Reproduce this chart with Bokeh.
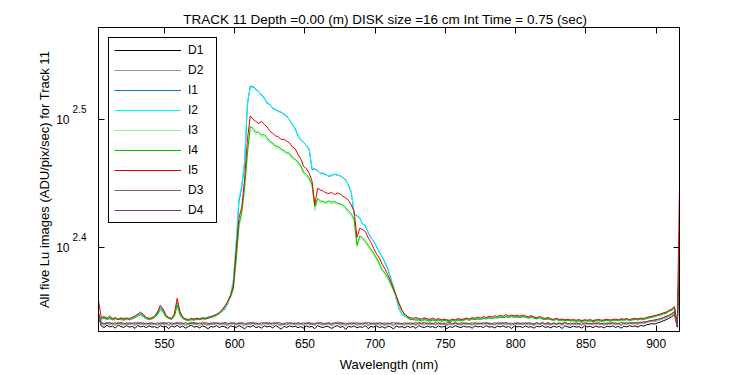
import numpy as np
from bokeh.plotting import figure
from bokeh.models import (Range1d, FixedTicker, LinearAxis, LogAxis, Legend, LegendItem,
                          CustomJSTickFormatter)
from bokeh.embed import file_html
from bokeh.resources import INLINE

# ---------------- data ----------------
wl_start = 503.0   # first sample wavelength (nm)
wl_step = 2.0      # sampling step (nm)

x_ticks = [550, 600, 650, 700, 750, 800, 850, 900]
y_ticks = [10 ** 2.4, 10 ** 2.5]
y_tick_exponents = ["2.4", "2.5"]

title_text = "TRACK 11 Depth =0.00 (m) DISK size =16 cm   Int Time = 0.75 (sec)"
x_label = "Wavelength (nm)"
y_label = "All five Lu images (ADU/pix/sec) for Track 11"

D1 = [
    222.0, 218.3, 217.6, 218.5, 217.9, 218.2, 217.4, 218.6, 218.0, 217.7,
    218.4, 217.8, 218.1, 217.3, 218.5, 217.9, 218.2, 217.6, 218.3, 217.8,
    218.0, 217.5, 218.4, 217.9, 218.1, 217.2, 218.3, 217.8, 218.5, 217.7,
    218.2, 217.4, 218.0, 218.6, 217.8, 218.1, 217.5, 218.3, 217.9, 217.2,
    218.1, 217.8, 218.4, 217.6, 218.2, 217.9, 217.3, 218.3, 218.0, 217.7,
    218.4, 217.9, 217.1, 218.2, 217.8, 218.5, 217.6, 218.0, 217.4, 218.3,
    217.9, 218.2, 217.5, 218.4, 217.8, 217.0, 218.1, 217.7, 218.3, 217.9,
    218.2, 217.6, 218.0, 217.4, 218.3, 217.8, 218.1, 217.2, 218.4, 217.9,
    217.6, 218.2, 217.9, 217.3, 218.0, 218.4, 217.7, 218.1, 216.9, 218.2,
    217.8, 218.3, 217.5, 218.0, 217.7, 218.4, 217.2, 218.1, 217.8, 218.3,
    217.6, 218.0, 217.4, 218.2, 217.9, 217.1, 218.3, 217.8, 218.0, 217.5,
    218.2, 217.7, 218.1, 217.3, 218.4, 217.9, 217.6, 218.2, 217.8, 218.0,
    217.5, 218.3, 217.8, 218.1, 217.2, 218.0, 217.7, 218.4, 217.9, 217.6,
    218.2, 217.8, 218.0, 217.4, 218.3, 217.9, 218.1, 217.6, 218.4, 217.8,
    218.0, 217.5, 218.2, 217.9, 218.3, 217.7, 218.1, 217.3, 218.2, 217.9,
    218.1, 217.6, 218.3, 217.8, 218.0, 217.4, 218.2, 217.9, 218.4, 217.7,
    218.0, 217.5, 218.2, 217.8, 218.1, 217.3, 218.3, 217.9, 217.6, 218.2,
    217.8, 218.0, 217.4, 218.3, 217.9, 218.1, 217.6, 218.2, 217.8, 218.0,
    217.5, 218.2, 217.9, 218.3, 217.7, 218.1, 217.4, 218.2, 217.9, 218.4,
    218.0, 218.3, 217.8, 218.5, 218.2, 218.7, 218.9, 219.2, 219.0, 219.5,
    219.8, 220.3, 220.7, 221.3, 221.9, 222.8, 217.8, 254.5,
]

D2 = [
    223.0, 219.0, 218.5, 219.2, 218.7, 219.1, 218.4, 219.3, 218.8, 218.6,
    219.1, 218.7, 219.0, 218.4, 219.2, 218.8, 219.1, 218.5, 219.0, 218.7,
    218.9, 218.5, 219.2, 218.8, 219.0, 218.3, 219.1, 218.7, 219.3, 218.6,
    219.0, 218.4, 218.9, 219.3, 218.7, 219.0, 218.5, 219.2, 218.8, 218.4,
    219.0, 218.7, 219.2, 218.6, 219.1, 218.8, 218.4, 219.2, 218.9, 218.6,
    219.2, 218.8, 218.3, 219.1, 218.7, 219.3, 218.6, 218.9, 218.4, 219.1,
    218.8, 219.1, 218.5, 219.2, 218.7, 218.2, 219.0, 218.6, 219.2, 218.8,
    219.1, 218.6, 218.9, 218.4, 219.2, 218.7, 219.0, 218.3, 219.3, 218.8,
    218.5, 219.1, 218.8, 218.4, 218.9, 219.3, 218.6, 219.0, 218.2, 219.1,
    218.7, 219.2, 218.5, 218.9, 218.6, 219.3, 218.3, 219.0, 218.7, 219.2,
    218.6, 218.9, 218.4, 219.1, 218.8, 218.2, 219.2, 218.7, 218.9, 218.5,
    219.1, 218.6, 219.0, 218.4, 219.3, 218.8, 218.6, 219.1, 218.7, 218.9,
    218.5, 219.2, 218.7, 219.0, 218.3, 218.9, 218.6, 219.3, 218.8, 218.5,
    219.1, 218.7, 218.9, 218.4, 219.2, 218.8, 219.0, 218.6, 219.3, 218.7,
    218.9, 218.5, 219.1, 218.8, 219.2, 218.6, 219.0, 218.4, 219.1, 218.8,
    219.0, 218.6, 219.2, 218.7, 218.9, 218.4, 219.1, 218.8, 219.3, 218.6,
    218.9, 218.5, 219.1, 218.7, 219.0, 218.4, 219.2, 218.8, 218.6, 219.1,
    218.7, 218.9, 218.4, 219.2, 218.8, 219.0, 218.6, 219.1, 218.7, 218.9,
    218.5, 219.1, 218.8, 219.2, 218.6, 219.0, 218.4, 219.1, 218.8, 219.3,
    218.9, 219.2, 218.8, 219.4, 219.1, 219.6, 219.8, 220.1, 219.9, 220.4,
    220.6, 221.1, 221.5, 222.0, 222.6, 223.4, 218.2, 255.2,
]

I1 = [
    222.4, 221.3, 221.8, 221.0, 221.6, 220.9, 221.4, 220.8, 221.2, 220.7,
    221.3, 220.9, 221.5, 221.8, 222.6, 223.3, 222.4, 221.5, 221.0, 221.4,
    222.0, 223.4, 225.9, 224.6, 222.3, 221.4, 221.0, 222.6, 227.6, 223.5,
    221.5, 220.9, 220.6, 221.1, 220.8, 221.2, 221.0, 221.4, 221.3, 221.8,
    221.8, 222.2, 222.8, 223.2, 224.0, 225.0, 227.2, 230.5, 236.0, 252.0,
    273.0, 280.0, 292.0, 325.0, 336.0, 335.4, 334.2, 332.6, 331.0, 328.7,
    326.2, 324.9, 323.1, 321.9, 321.3, 320.6, 319.6, 318.2, 316.4, 313.6,
    311.4, 307.2, 305.1, 303.6, 302.1, 299.6, 289.2, 289.6, 288.4, 287.4,
    287.1, 286.6, 285.6, 286.3, 286.7, 286.4, 285.9, 285.1, 283.7, 281.2,
    277.3, 266.8, 266.2, 264.9, 262.4, 261.2, 258.3, 255.7, 254.2, 251.6,
    249.2, 247.1, 244.6, 241.7, 237.9, 234.1, 229.2, 225.1, 223.0, 222.0,
    221.8, 221.2, 220.8, 221.0, 220.9, 220.5, 221.2, 220.7, 220.4, 221.0,
    220.6, 220.9, 220.3, 220.8, 220.5, 220.2, 220.7, 220.4, 220.9, 220.6,
    220.8, 221.1, 220.7, 221.2, 220.9, 221.3, 221.0, 221.4, 221.2, 221.6,
    221.3, 221.7, 221.5, 221.9, 221.6, 222.0, 221.7, 222.1, 221.8, 222.0,
    221.7, 222.1, 221.8, 221.6, 221.9, 221.5, 221.3, 221.6, 221.2, 221.0,
    221.3, 220.9, 220.7, 221.0, 220.6, 220.8, 220.5, 220.7, 220.4, 220.6,
    220.3, 220.5, 220.2, 220.6, 220.3, 220.5, 220.2, 220.4, 220.6, 220.3,
    220.5, 220.7, 220.4, 220.6, 220.8, 220.5, 220.9, 220.7, 221.0, 220.6,
    220.9, 221.1, 220.8, 221.2, 221.0, 221.4, 221.7, 221.9, 222.2, 222.5,
    222.8, 223.2, 223.5, 224.2, 224.8, 225.6, 219.0, 256.0,
]

I2 = [
    221.9, 221.6, 221.2, 221.7, 221.1, 221.5, 220.9, 221.3, 220.8, 221.4,
    220.9, 221.5, 221.1, 222.1, 222.9, 223.0, 222.1, 221.3, 221.4, 221.1,
    222.3, 223.9, 225.5, 224.0, 222.0, 221.7, 221.3, 223.0, 227.1, 223.0,
    221.2, 221.3, 220.9, 220.8, 221.2, 220.9, 221.3, 221.1, 221.6, 221.5,
    222.0, 222.5, 222.6, 223.6, 224.3, 225.4, 227.8, 231.0, 237.5, 254.0,
    274.5, 281.0, 293.5, 326.0, 335.0, 336.2, 333.5, 333.2, 330.2, 329.4,
    325.5, 325.4, 322.5, 322.4, 320.8, 321.0, 319.1, 318.7, 316.0, 314.1,
    310.9, 307.8, 304.6, 304.1, 301.6, 300.1, 290.0, 289.1, 288.8, 287.0,
    287.5, 286.2, 286.0, 285.9, 287.1, 286.0, 286.3, 284.7, 284.1, 280.8,
    277.8, 267.4, 265.8, 265.3, 262.0, 261.6, 257.9, 256.1, 253.8, 252.0,
    248.8, 247.5, 244.2, 242.1, 237.5, 234.5, 228.8, 225.5, 222.7, 222.3,
    221.5, 221.5, 220.6, 221.3, 220.6, 220.8, 220.9, 221.0, 220.6, 220.7,
    220.9, 220.6, 220.6, 220.5, 220.8, 220.4, 220.4, 220.7, 220.6, 220.9,
    220.5, 221.3, 220.9, 220.9, 221.2, 221.0, 221.3, 221.1, 221.5, 221.3,
    221.6, 221.4, 221.8, 221.6, 221.9, 221.7, 222.0, 221.8, 222.1, 221.7,
    222.0, 221.8, 222.1, 221.3, 221.6, 221.8, 221.0, 221.9, 220.9, 221.3,
    221.0, 221.2, 220.4, 221.3, 220.9, 220.5, 220.8, 220.4, 220.7, 220.3,
    220.6, 220.2, 220.5, 220.3, 220.6, 220.2, 220.5, 220.7, 220.3, 220.6,
    220.2, 220.9, 220.6, 220.3, 220.6, 220.8, 220.6, 221.0, 220.7, 220.9,
    220.7, 220.8, 221.1, 220.9, 221.3, 221.1, 221.5, 222.1, 221.9, 222.7,
    222.5, 223.5, 223.2, 224.5, 224.4, 226.0, 218.8, 255.5,
]

I3 = [
    221.6, 221.3, 220.9, 221.2, 220.7, 221.0, 220.6, 221.1, 220.5, 221.2,
    220.6, 221.0, 220.9, 221.8, 222.4, 222.3, 221.5, 221.0, 221.1, 220.8,
    221.9, 222.5, 224.4, 223.5, 221.6, 221.4, 220.7, 222.3, 226.0, 222.4,
    220.9, 220.8, 220.6, 220.5, 220.8, 220.6, 221.0, 220.8, 221.2, 221.1,
    221.8, 221.7, 222.3, 223.0, 224.1, 225.6, 227.4, 229.5, 232.8, 244.5,
    260.5, 266.8, 278.5, 296.0, 310.5, 310.2, 308.0, 308.3, 306.6, 306.9,
    305.1, 303.6, 302.5, 300.8, 300.6, 299.2, 298.4, 297.2, 296.8, 294.9,
    293.8, 292.4, 290.4, 287.0, 285.9, 284.0, 280.5, 268.6, 273.6, 272.6,
    272.3, 271.8, 272.5, 271.9, 272.4, 271.4, 271.2, 270.5, 269.4, 267.6,
    266.2, 263.4, 251.5, 255.6, 255.0, 253.4, 251.6, 249.8, 247.9, 245.8,
    243.4, 240.9, 239.3, 237.4, 234.9, 232.3, 229.8, 226.8, 224.0, 222.2,
    221.2, 220.9, 220.5, 220.7, 220.3, 220.6, 220.4, 220.6, 220.0, 220.4,
    220.5, 220.2, 220.4, 220.1, 220.4, 220.2, 220.0, 220.5, 220.3, 220.5,
    220.3, 220.9, 220.6, 220.7, 221.0, 220.8, 221.0, 221.1, 221.2, 221.3,
    221.5, 221.3, 221.7, 221.5, 221.8, 221.6, 221.9, 221.8, 221.9, 221.6,
    221.9, 221.6, 221.9, 221.2, 221.5, 221.6, 220.9, 221.7, 220.8, 221.1,
    220.8, 220.9, 220.3, 220.9, 220.6, 220.3, 220.6, 220.2, 220.5, 220.1,
    220.4, 220.0, 220.3, 220.1, 220.4, 220.0, 220.3, 220.4, 220.1, 220.4,
    220.0, 220.6, 220.4, 220.2, 220.5, 220.6, 220.4, 220.8, 220.5, 220.7,
    220.5, 220.7, 220.9, 220.8, 221.1, 221.0, 221.3, 221.8, 221.8, 222.5,
    222.3, 223.2, 223.0, 224.2, 224.2, 225.7, 218.6, 254.8,
]

I4 = [
    222.0, 221.0, 221.5, 220.8, 221.3, 220.6, 221.2, 220.7, 221.0, 220.5,
    221.1, 220.7, 221.2, 221.5, 222.2, 222.8, 222.0, 221.2, 220.8, 221.1,
    221.6, 222.8, 225.0, 224.0, 222.0, 221.2, 220.9, 222.0, 226.6, 222.8,
    221.2, 220.6, 220.3, 220.8, 220.5, 220.9, 220.7, 221.1, 220.9, 221.3,
    221.6, 222.0, 222.5, 223.2, 224.5, 226.0, 227.8, 230.0, 233.5, 246.0,
    262.0, 268.0, 280.0, 298.0, 312.5, 311.4, 309.2, 309.4, 307.7, 307.9,
    306.3, 304.2, 303.4, 301.7, 301.5, 300.1, 299.3, 298.1, 297.8, 295.6,
    294.6, 293.3, 291.2, 287.8, 286.7, 284.8, 281.6, 270.5, 274.6, 273.3,
    273.1, 272.5, 273.3, 272.7, 273.0, 272.2, 271.9, 271.4, 270.1, 268.4,
    267.1, 264.3, 252.6, 256.6, 255.8, 254.2, 252.4, 250.6, 248.7, 246.6,
    244.1, 241.6, 240.0, 238.1, 235.6, 233.0, 230.4, 227.3, 224.6, 222.6,
    221.5, 220.8, 220.9, 220.5, 220.7, 220.3, 220.8, 220.4, 220.2, 220.6,
    220.3, 220.6, 220.1, 220.5, 220.2, 220.0, 220.4, 220.2, 220.6, 220.3,
    220.6, 220.8, 220.5, 221.0, 220.7, 221.1, 220.8, 221.3, 221.0, 221.5,
    221.2, 221.6, 221.4, 221.8, 221.5, 222.0, 221.6, 222.1, 221.7, 221.9,
    221.6, 222.0, 221.7, 221.4, 221.8, 221.3, 221.1, 221.5, 221.0, 220.8,
    221.1, 220.7, 220.5, 220.8, 220.4, 220.6, 220.3, 220.5, 220.2, 220.4,
    220.1, 220.3, 220.0, 220.4, 220.1, 220.3, 220.0, 220.2, 220.4, 220.1,
    220.3, 220.5, 220.2, 220.4, 220.6, 220.3, 220.7, 220.5, 220.8, 220.4,
    220.7, 220.9, 220.6, 221.0, 220.8, 221.2, 221.5, 221.7, 222.0, 222.3,
    222.6, 223.0, 223.3, 224.0, 224.6, 225.4, 218.7, 255.0,
]

I5 = [
    228.4, 221.6, 222.0, 221.2, 222.3, 221.0, 221.6, 220.9, 221.5, 221.1,
    221.4, 221.0, 221.7, 222.2, 223.0, 223.8, 222.8, 221.7, 221.2, 221.5,
    222.2, 223.8, 226.5, 225.0, 222.5, 221.6, 221.2, 223.0, 229.4, 224.0,
    221.8, 221.0, 220.7, 221.3, 220.9, 221.4, 221.0, 221.5, 221.2, 221.6,
    222.0, 222.4, 222.9, 223.6, 224.8, 226.3, 228.2, 230.6, 234.5, 250.0,
    265.0, 270.5, 284.0, 305.0, 318.5, 316.6, 315.3, 314.2, 315.4, 313.6,
    312.3, 309.8, 308.7, 307.3, 306.8, 305.2, 305.4, 304.3, 303.4, 301.2,
    300.3, 297.2, 294.8, 290.8, 289.7, 287.2, 283.3, 271.5, 279.6, 278.8,
    278.2, 277.3, 277.0, 277.6, 276.4, 277.3, 276.7, 275.6, 274.8, 273.6,
    271.3, 268.0, 256.0, 260.2, 259.6, 258.7, 255.8, 253.6, 250.8, 248.4,
    246.6, 243.8, 241.8, 239.3, 236.6, 233.4, 230.4, 227.0, 224.5, 222.9,
    222.0, 221.5, 221.3, 221.6, 221.2, 221.0, 221.5, 221.1, 220.9, 221.4,
    220.8, 221.2, 220.7, 221.0, 220.6, 220.5, 221.0, 220.7, 221.2, 220.9,
    221.0, 221.4, 221.0, 221.6, 221.3, 221.8, 221.4, 222.0, 221.6, 222.2,
    221.8, 222.3, 222.0, 222.5, 222.1, 222.8, 222.2, 222.6, 222.3, 222.5,
    222.1, 222.6, 222.2, 221.9, 222.4, 221.8, 221.6, 222.0, 221.5, 221.3,
    221.6, 221.1, 220.9, 221.3, 220.8, 221.0, 220.7, 220.9, 220.6, 220.8,
    220.5, 220.8, 220.4, 220.7, 220.5, 220.8, 220.4, 220.6, 220.9, 220.5,
    220.7, 220.9, 220.6, 220.8, 221.0, 220.7, 221.1, 220.9, 221.2, 220.8,
    221.1, 221.3, 221.0, 221.4, 221.2, 221.6, 221.9, 222.1, 222.4, 222.7,
    223.0, 223.4, 223.8, 224.4, 225.0, 226.0, 218.4, 297.4,
]

D3 = [
    223.6, 219.4, 219.0, 219.7, 219.1, 219.5, 218.9, 219.8, 219.2, 219.0,
    219.6, 219.1, 219.4, 218.9, 219.7, 219.2, 219.5, 219.0, 219.4, 219.1,
    219.3, 218.9, 219.6, 219.2, 219.5, 218.8, 219.6, 219.1, 219.8, 219.0,
    219.4, 218.9, 219.3, 219.8, 219.1, 219.5, 219.0, 219.7, 219.2, 218.8,
    219.5, 219.1, 219.6, 219.0, 219.5, 219.2, 218.8, 219.7, 219.3, 219.0,
    219.6, 219.2, 218.8, 219.5, 219.1, 219.7, 219.0, 219.4, 218.9, 219.6,
    219.2, 219.5, 219.0, 219.7, 219.1, 218.7, 219.4, 219.0, 219.6, 219.2,
    219.5, 219.0, 219.3, 218.9, 219.6, 219.1, 219.4, 218.8, 219.7, 219.2,
    218.9, 219.5, 219.2, 218.8, 219.4, 219.8, 219.0, 219.5, 218.7, 219.6,
    219.1, 219.6, 218.9, 219.4, 219.0, 219.7, 218.8, 219.5, 219.1, 219.6,
    219.0, 219.4, 218.8, 219.5, 219.2, 218.7, 219.6, 219.1, 219.3, 218.9,
    219.5, 219.0, 219.4, 218.8, 219.7, 219.2, 219.0, 219.5, 219.1, 219.3,
    218.9, 219.6, 219.1, 219.4, 218.8, 219.3, 219.0, 219.7, 219.2, 218.9,
    219.5, 219.1, 219.3, 218.8, 219.6, 219.2, 219.4, 219.0, 219.7, 219.1,
    219.3, 218.9, 219.5, 219.2, 219.6, 219.0, 219.4, 218.8, 219.5, 219.2,
    219.4, 219.0, 219.6, 219.1, 219.3, 218.8, 219.5, 219.2, 219.7, 219.0,
    219.3, 218.9, 219.5, 219.1, 219.4, 218.8, 219.6, 219.2, 219.0, 219.5,
    219.1, 219.3, 218.8, 219.6, 219.2, 219.4, 219.0, 219.5, 219.1, 219.3,
    218.9, 219.5, 219.2, 219.6, 219.0, 219.4, 218.8, 219.5, 219.2, 219.7,
    219.3, 219.6, 219.2, 219.8, 219.5, 220.0, 220.2, 220.5, 220.3, 220.8,
    221.0, 221.5, 221.9, 222.4, 223.0, 223.8, 218.6, 255.7,
]

D4 = [
    223.2, 219.6, 219.2, 219.3, 219.7, 219.0, 219.5, 219.1, 219.6, 219.3,
    219.0, 219.5, 219.2, 219.6, 219.1, 219.7, 219.0, 219.4, 219.2, 219.6,
    219.1, 219.5, 219.0, 219.6, 219.2, 219.7, 218.9, 219.4, 219.1, 219.6,
    219.2, 219.6, 219.0, 219.3, 219.7, 219.1, 219.5, 218.9, 219.6, 219.3,
    219.0, 219.6, 219.2, 219.5, 219.0, 219.7, 219.3, 219.1, 219.6, 219.2,
    219.1, 219.6, 219.3, 219.0, 219.7, 219.2, 219.5, 219.0, 219.6, 219.3,
    219.6, 219.1, 219.5, 219.2, 219.7, 219.3, 218.9, 219.6, 219.2, 219.4,
    219.0, 219.6, 219.2, 219.5, 219.1, 219.7, 219.0, 219.4, 219.2, 219.6,
    219.3, 219.0, 219.6, 219.2, 219.5, 219.1, 219.7, 219.2, 219.4, 219.0,
    219.5, 219.1, 219.6, 219.0, 219.5, 219.2, 219.7, 219.1, 219.4, 219.0,
    219.6, 219.2, 219.5, 219.0, 219.4, 219.6, 219.1, 219.5, 219.0, 219.6,
    219.1, 219.5, 219.2, 219.6, 219.0, 219.4, 219.7, 219.1, 219.5, 219.2,
    219.6, 219.1, 219.4, 219.0, 219.5, 219.7, 219.2, 219.4, 219.0, 219.6,
    219.2, 219.5, 219.1, 219.6, 219.0, 219.4, 219.2, 219.6, 219.1, 219.5,
    219.0, 219.6, 219.2, 219.5, 219.1, 219.7, 219.2, 219.4, 219.0, 219.6,
    219.2, 219.5, 219.0, 219.6, 219.3, 219.1, 219.6, 219.0, 219.4, 219.2,
    219.6, 219.1, 219.4, 219.0, 219.5, 219.2, 219.7, 219.1, 219.4, 219.0,
    219.5, 219.2, 219.6, 219.1, 219.4, 219.0, 219.5, 219.2, 219.6, 219.1,
    219.4, 219.0, 219.6, 219.2, 219.5, 219.1, 219.7, 219.3, 219.5, 219.2,
    219.6, 219.3, 219.8, 219.5, 220.0, 219.8, 220.3, 220.4, 220.7, 220.9,
    221.2, 221.6, 222.1, 222.5, 223.2, 224.0, 218.5, 255.9,
]

series_names = ["D1", "D2", "I1", "I2", "I3", "I4", "I5", "D3", "D4"]
series_values = [D1, D2, I1, I2, I3, I4, I5, D3, D4]
series_colors = ["#000000", "#999999", "#1a6fdf", "#00ffff", "#80ff80",
                 "#00c000", "#f00000", "#806060", "#804040"]

n = len(D1)
for s in series_values:
    assert len(s) == n
wavelength = wl_start + wl_step * np.arange(n)

FONT = "Liberation Sans"

# ---------------- figure ----------------
x0, x1 = 503.0, 916.6
y0, y1 = 216.1, 373.4

p = figure(width=750, height=375, output_backend="svg", toolbar_location=None,
           title=title_text, y_axis_type="log",
           x_range=Range1d(x0, x1), y_range=Range1d(y0, y1),
           min_border_left=98, min_border_right=71, min_border_top=27,
           min_border_bottom=44)
p.grid.visible = False
p.outline_line_color = "black"
p.outline_line_width = 1
p.background_fill_color = "white"
p.border_fill_color = "white"

p.title.text_font = FONT
p.title.text_font_size = "13.5px"
p.title.text_font_style = "normal"
p.title.text_color = "black"
p.title.align = "center"
p.title.offset = 39
p.title.standoff = 2


def style_axis(ax):
    ax.axis_line_color = "black"
    ax.major_tick_line_color = "black"
    ax.major_tick_line_width = 1
    ax.major_tick_in = 6
    ax.major_tick_out = 0
    ax.minor_tick_in = 0
    ax.minor_tick_out = 0
    ax.major_label_text_font = FONT
    ax.major_label_text_font_size = "12px"
    ax.major_label_text_color = "black"
    ax.axis_label_text_font = FONT
    ax.axis_label_text_font_size = "13px"
    ax.axis_label_text_font_style = "normal"
    ax.axis_label_text_color = "black"


def blank():
    return CustomJSTickFormatter(code="return '';")


# bottom axis
xa = p.xaxis[0]
style_axis(xa)
xa.ticker = FixedTicker(ticks=x_ticks)
xa.major_label_standoff = 7
xa.axis_label = x_label
xa.axis_label_standoff = 6

# left: innermost axis only draws the ticks
ya = p.yaxis[0]
style_axis(ya)
ya.ticker = FixedTicker(ticks=y_ticks)
ya.formatter = blank()
ya.major_label_text_font_size = "1px"
ya.major_label_standoff = 0
ya.axis_label_standoff = 0

# left: exponents of the "10^x" tick labels (raised above the tick by a few px)
raise_px = 11
exp_ticks = [t * 10 ** (raise_px / 1280.0) for t in y_ticks]
exp_axis = LogAxis(ticker=FixedTicker(ticks=exp_ticks),
                   formatter=CustomJSTickFormatter(args=dict(labels=y_tick_exponents),
                                                   code="return labels[index];"))
style_axis(exp_axis)
exp_axis.axis_line_color = None
exp_axis.major_tick_line_color = None
exp_axis.major_tick_in = 0
exp_axis.major_label_text_font_size = "10px"
exp_axis.major_label_standoff = 12
exp_axis.axis_label_standoff = 0
p.add_layout(exp_axis, "left")

# left: base "10" of tick labels + axis title
base_axis = LogAxis(ticker=FixedTicker(ticks=y_ticks),
                    formatter=CustomJSTickFormatter(code="return '10';"))
style_axis(base_axis)
base_axis.axis_line_color = None
base_axis.major_tick_line_color = None
base_axis.major_tick_in = 0
base_axis.major_label_standoff = 0
base_axis.axis_label = y_label
base_axis.axis_label_standoff = 1
p.add_layout(base_axis, "left")

# top axis: ticks only; its (empty) label band lifts the title a little
top_axis = LinearAxis(ticker=FixedTicker(ticks=x_ticks), formatter=blank())
style_axis(top_axis)
top_axis.major_label_text_font_size = "1px"
top_axis.major_label_standoff = 4
top_axis.axis_label_standoff = 0
p.add_layout(top_axis, "above")

right_axis = LogAxis(ticker=FixedTicker(ticks=y_ticks), formatter=blank())
style_axis(right_axis)
right_axis.major_label_text_font_size = "1px"
right_axis.major_label_standoff = 0
right_axis.axis_label_standoff = 0
p.add_layout(right_axis, "right")

# lines
renderers = []
for name, vals, col in zip(series_names, series_values, series_colors):
    r = p.line(wavelength, vals, line_color=col, line_width=1)
    renderers.append((name, r))

legend = Legend(items=[LegendItem(label=nm, renderers=[r]) for nm, r in renderers],
                location="top_left", margin=10, padding=5, spacing=6,
                glyph_height=12, label_height=12, glyph_width=67, label_width=23,
                label_standoff=7,
                border_line_color="black", border_line_width=1, border_line_alpha=1.0,
                background_fill_color="white", background_fill_alpha=1.0,
                label_text_font=FONT, label_text_font_size="12px",
                label_text_color="black")
p.add_layout(legend)

open("out.html", "w").write(file_html(p, INLINE))
